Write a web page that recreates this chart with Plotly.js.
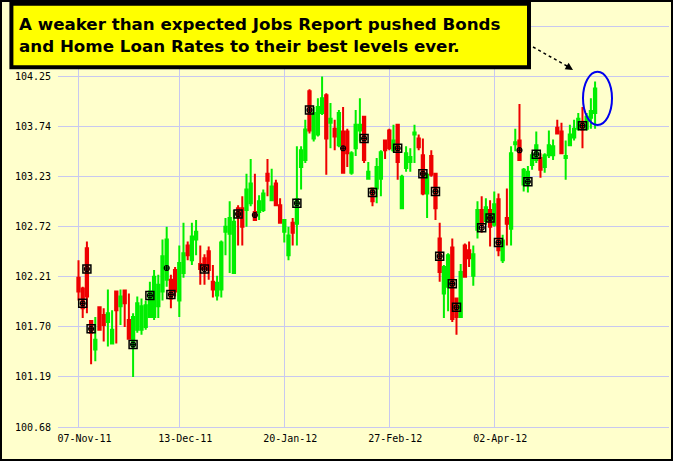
<!DOCTYPE html>
<html>
<head>
<meta charset="utf-8">
<script src="https://cdn.plot.ly/plotly-3.0.1.min.js"></script>
<style>
html,body{margin:0;padding:0;background:#FFFFCC;}
#chart{width:673px;height:461px;}
</style>
</head>
<body>
<div id="chart"></div>
<script>
// ---- categories: trading days (weekends and market holidays skipped) ----
const startDay = '2011-11-07';
const endDay = '2012-05-04';
const holidays = ['2011-11-24','2011-11-25','2011-12-26','2012-01-02','2012-01-16','2012-02-20'];
const monthNames = ['Jan','Feb','Mar','Apr','May','Jun','Jul','Aug','Sep','Oct','Nov','Dec'];

// ---- x tick labels ----
const xTickLabels = ['07-Nov-11','13-Dec-11','20-Jan-12','27-Feb-12','02-Apr-12'];

// ---- y tick values / labels (top gridline's label is hidden behind the headline box) ----
const yTicks = [100.68, 101.19, 101.70, 102.21, 102.72, 103.23, 103.74, 104.25, 104.76];
const yTickLabels = ['100.68','101.19','101.70','102.21','102.72','103.23','103.74','104.25',''];

// ---- daily prices ----
const openP = [
102.20,102.09,102.50,101.76,101.47,101.90,101.82,101.75,101.53,102.06,
101.91,102.07,101.77,101.50,101.67,101.67,101.70,101.80,101.80,101.91,
102.06,102.18,102.18,102.28,101.97,102.25,102.53,102.38,102.59,102.34,
102.40,102.47,102.16,102.02,102.08,102.67,102.65,102.25,102.91,102.91,
102.89,102.96,102.87,102.87,102.89,103.26,102.99,103.16,102.94,102.67,
102.43,102.76,102.75,103.33,103.40,104.10,103.62,103.66,103.88,104.06,
103.78,103.72,103.55,103.69,103.69,103.27,103.52,103.70,103.84,103.21,
103.11,103.11,103.21,103.60,103.70,103.50,103.76,102.91,103.32,103.38,
103.66,103.62,103.45,103.06,103.44,103.26,102.60,102.04,102.11,102.51,
101.99,101.80,102.53,102.48,102.22,102.69,102.89,102.78,102.89,102.74,
103.00,102.38,102.81,102.70,103.56,103.60,103.15,103.15,103.35,103.40,
103.42,103.33,103.45,103.45,103.73,103.69,103.42,103.55,103.63,103.72,
103.79,103.72,103.83,103.88];
const highP = [
102.38,102.11,102.57,101.77,101.80,101.91,101.89,102.08,101.87,102.06,
102.08,102.07,102.04,101.84,102.01,101.99,101.97,102.16,102.28,102.23,
102.59,102.72,102.23,102.31,102.53,102.76,102.57,102.76,102.79,102.53,
102.44,102.52,102.33,102.22,102.58,102.81,102.98,102.89,102.94,103.03,
103.26,103.41,103.26,103.04,103.10,103.41,103.31,103.20,103.01,102.79,
102.72,102.81,103.54,103.54,103.81,104.12,103.94,104.03,104.25,104.08,
103.98,103.81,103.91,103.94,103.72,103.49,103.91,104.03,103.85,103.38,
103.12,103.42,103.50,103.60,103.72,103.76,103.76,103.25,103.54,103.52,
103.76,103.66,103.62,103.27,103.50,103.27,102.76,102.33,102.45,102.60,
102.00,102.34,102.55,102.57,102.53,102.98,103.03,103.01,102.99,103.08,
103.06,102.64,103.11,103.54,103.72,103.97,103.32,103.34,103.48,103.69,
103.47,103.47,103.70,103.61,103.81,103.78,103.60,103.76,103.81,103.88,
103.94,103.88,104.03,104.20];
const lowP = [
101.97,101.79,101.84,101.32,101.35,101.66,101.55,101.50,101.52,101.53,
101.72,101.70,101.58,101.19,101.64,101.62,101.67,101.79,101.77,101.79,
101.97,102.11,101.89,102.01,101.80,102.20,102.38,102.33,102.43,102.13,
102.13,102.18,102.00,101.97,102.00,102.43,102.25,102.25,102.53,102.53,
102.72,102.93,102.79,102.79,102.87,103.03,102.99,102.94,102.76,102.56,
102.38,102.53,102.53,103.10,103.37,103.67,103.59,103.64,103.86,103.25,
103.52,103.50,103.53,103.27,103.33,103.25,103.44,103.59,103.37,103.21,
102.93,102.96,103.03,103.41,103.50,103.48,103.20,102.90,103.28,103.28,
103.37,103.50,103.04,102.81,103.23,102.79,102.16,101.79,101.86,101.75,
101.62,101.80,102.20,102.31,102.12,102.60,102.66,102.74,102.52,102.72,
102.42,102.35,102.53,102.53,103.49,103.40,103.08,103.07,103.30,103.37,
103.22,103.27,103.42,103.40,103.66,103.47,103.20,103.55,103.60,103.70,
103.52,103.70,103.72,103.72];
const closeP = [
102.06,101.89,102.01,101.64,101.57,101.67,101.72,101.84,101.67,101.87,
102.01,101.94,101.58,101.80,101.94,101.91,101.92,102.06,102.21,102.13,
102.42,102.59,101.99,102.06,102.35,102.45,102.43,102.62,102.67,102.29,
102.29,102.28,102.08,102.15,102.56,102.72,102.81,102.77,102.82,102.72,
103.10,103.16,102.79,102.98,103.06,103.19,103.13,102.94,102.76,102.79,
102.63,102.66,103.00,103.50,103.71,103.70,103.88,103.94,104.03,103.62,
103.82,103.64,103.88,103.27,103.47,103.47,103.76,103.76,103.40,103.28,
102.98,103.33,103.48,103.50,103.52,103.60,103.38,103.23,103.47,103.43,
103.68,103.53,103.06,103.25,103.25,102.91,102.26,102.31,102.43,101.78,
101.80,102.26,102.21,102.40,102.44,102.89,102.74,102.92,102.72,102.95,
102.48,102.58,102.75,103.47,103.58,103.40,103.30,103.28,103.45,103.55,
103.30,103.45,103.55,103.54,103.67,103.47,103.44,103.66,103.72,103.82,
103.71,103.84,103.90,104.13];

// ---- event markers (bar number, price) ----
const boxBars = [1,2,3,13,17,22,30,38,52,55,68,70,76,82,85,86,89,90,96,98,100,107,109,120];
const boxPrices = [101.94,102.29,101.68,101.52,102.02,102.03,102.29,102.85,102.96,103.91,103.62,103.07,103.52,103.26,103.08,102.42,102.14,101.90,102.71,102.81,102.56,103.18,103.46,103.75];
const dotBars = [21,42,63,105];
const dotPrices = [102.30,102.84,103.52,103.50];

// build category labels
function pad(n){return (n<10?'0':'')+n;}
const days = [];
{
  let d = new Date(startDay+'T00:00:00Z');
  const end = new Date(endDay+'T00:00:00Z');
  while (d <= end) {
    const iso = d.toISOString().slice(0,10);
    const wd = d.getUTCDay();
    if (wd !== 0 && wd !== 6 && holidays.indexOf(iso) < 0) {
      days.push(pad(d.getUTCDate())+'-'+monthNames[d.getUTCMonth()]+'-'+String(d.getUTCFullYear()).slice(2));
    }
    d = new Date(d.getTime()+86400000);
  }
}

const GREEN = '#00EE00', RED = '#EE0000';
const allMarkBars = boxBars.concat(dotBars);
const allMarkPrices = boxPrices.concat(dotPrices);

const traces = [
  {
    type:'candlestick', x: days, open: openP, high: highP, low: lowP, close: closeP,
    increasing:{line:{color:GREEN,width:2}, fillcolor:GREEN},
    decreasing:{line:{color:RED,width:2}, fillcolor:RED},
    whiskerwidth:0, showlegend:false, hoverinfo:'skip'
  },
  {
    type:'scatter', mode:'markers', x: boxBars.map(i=>days[i]), y: boxPrices,
    marker:{symbol:'square-open', size:8, color:'#000', line:{width:1.5,color:'#000'}},
    showlegend:false, hoverinfo:'skip'
  },
  {
    type:'scatter', mode:'markers', x: allMarkBars.map(i=>days[i]), y: allMarkPrices,
    marker:{symbol:'circle-cross-open', size:5, color:'#000', line:{width:1.2,color:'#000'}},
    showlegend:false, hoverinfo:'skip'
  }
];

// plot area in pixels: left 58, right 669, top 3, bottom 427
const L=58, R=669, T=3, B=427, W=673, H=461;
const px = v => (v-L)/(R-L);
const py = v => (B-v)/(B-T);

const layout = {
  width:W, height:H,
  margin:{l:L, r:W-R, t:T, b:H-B, pad:0},
  paper_bgcolor:'#FFFFCC', plot_bgcolor:'#FFFFCC',
  boxgap:0.45, boxgroupgap:0,
  font:{family:'DejaVu Sans Mono', size:10, color:'#000'},
  xaxis:{
    type:'category', range:[-4.88, 140.6], rangeslider:{visible:false},
    tickmode:'array', tickvals:xTickLabels, ticktext:xTickLabels,
    showgrid:true, gridcolor:'#C8C8F0', gridwidth:1,
    showline:true, linecolor:'#C8C8F0', linewidth:1,
    ticks:'', ticklabelshift:6, ticklabelstandoff:2,
    tickfont:{family:'DejaVu Sans Mono', size:10, color:'#000'},
    zeroline:false, fixedrange:true
  },
  yaxis:{
    range:[100.68, 105.0],
    tickmode:'array', tickvals:yTicks, ticktext:yTickLabels,
    showgrid:true, gridcolor:'#C8C8F0', gridwidth:1,
    showline:false, ticks:'', ticklabelstandoff:6,
    tickfont:{family:'DejaVu Sans Mono', size:10, color:'#000'},
    zeroline:false, fixedrange:true
  },
  shapes:[
    {type:'rect', xref:'paper', yref:'paper', x0:px(1), x1:px(672), y0:py(1), y1:py(460),
     line:{color:'#000', width:2}, fillcolor:'rgba(0,0,0,0)', layer:'above'},
    {type:'rect', xref:'paper', yref:'paper', x0:px(11.4), x1:px(529), y0:py(3.7), y1:py(67.3),
     line:{color:'#000', width:4}, fillcolor:'#FFFF00', layer:'above'},
    {type:'line', xref:'paper', yref:'paper', x0:px(533), y0:py(47), x1:px(567), y1:py(66),
     line:{color:'#000', width:1.5, dash:'dot'}, layer:'above'},
    {type:'circle', xref:'paper', yref:'paper', x0:px(583), x1:px(612), y0:py(125), y1:py(71.7),
     line:{color:'#0000EE', width:2}, fillcolor:'rgba(0,0,0,0)', layer:'above'}
  ],
  annotations:[
    {xref:'paper', yref:'paper', x:px(17), y:py(35.3), xanchor:'left', yanchor:'middle',
     align:'left', showarrow:false,
     text:'A weaker than expected Jobs Report pushed Bonds<br>and Home Loan Rates to their best levels ever.',
     font:{family:'DejaVu Sans', size:16.7, color:'#000', weight:'bold'}},
    {xref:'paper', yref:'paper', x:px(573), y:py(70), ax:-8, ay:-5, showarrow:true,
     arrowhead:2, arrowsize:1, arrowwidth:1.5, arrowcolor:'#000', text:''}
  ],
  showlegend:false, hovermode:false
};

Plotly.newPlot('chart', traces, layout, {displayModeBar:false, staticPlot:true});
</script>
</body>
</html>
